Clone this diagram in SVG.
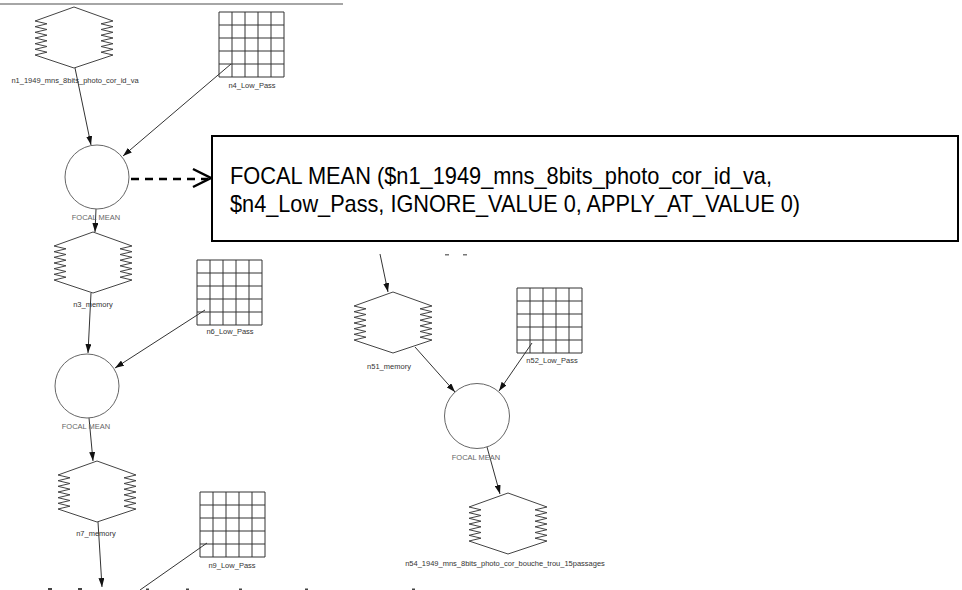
<svg xmlns="http://www.w3.org/2000/svg" xmlns:xlink="http://www.w3.org/1999/xlink" width="962" height="590" viewBox="0 0 962 590">
  <style>
    .hex { fill: none; stroke: #444; stroke-width: 1; }
    .grid { fill: none; stroke: #333; stroke-width: 1; }
    .op { fill: none; stroke: #666; stroke-width: 1; }
    .lbl { font-family: "Liberation Sans", Arial, sans-serif; font-size: 7.5px; fill: #333; text-anchor: middle; }
    .oplbl { font-family: "Liberation Sans", Arial, sans-serif; font-size: 7.5px; fill: #666; text-anchor: middle; }
    .edge { fill: none; stroke: #333; stroke-width: 1; }
    .call { font-family: "Liberation Sans Narrow", "Liberation Sans", Arial, sans-serif; font-size: 24px; fill: #000; }
  </style>
  <defs>
    <marker id="arrow" markerWidth="9" markerHeight="6" refX="9" refY="3" orient="auto" markerUnits="userSpaceOnUse">
      <path d="M0,0 L9,3 L0,6 Z" fill="#111"/>
    </marker>
    <!-- raster hexagon: top vertex at origin -->
    <path id="hexShape" class="hex" d="M0,0 L39,14 L27,16.8 L39,19.7 L27,22.5 L39,25.3 L27,28.2 L39,31 L27,33.8 L39,36.7 L27,39.5 L39,42.3 L27,45.2 L39,48 L0,61 L-39,48 L-27,45.2 L-39,42.3 L-27,39.5 L-39,36.7 L-27,33.8 L-39,31 L-27,28.2 L-39,25.3 L-27,22.5 L-39,19.7 L-27,16.8 L-39,14 Z"/>
    <!-- 5x5 kernel grid: top-left at origin -->
    <path id="gridShape" class="grid" d="M0,0 H65 V65 H0 Z M13,0 V65 M26,0 V65 M39,0 V65 M52,0 V65 M0,13 H65 M0,26 H65 M0,39 H65 M0,52 H65"/>
  </defs>

  <rect width="962" height="590" fill="#fff"/>
  <line x1="0" y1="4" x2="343" y2="4" stroke="#888" stroke-width="1.5"/>

  <g id="edges">
    <line class="edge" x1="75" y1="68" x2="91" y2="145" marker-end="url(#arrow)"/>
    <line class="edge" x1="231" y1="64" x2="123" y2="156" marker-end="url(#arrow)"/>
    <line class="edge" x1="96" y1="209" x2="95" y2="232" marker-end="url(#arrow)"/>
    <line class="edge" x1="91" y1="293" x2="88" y2="353" marker-end="url(#arrow)"/>
    <line class="edge" x1="205" y1="310" x2="115" y2="368" marker-end="url(#arrow)"/>
    <line class="edge" x1="89" y1="418" x2="93" y2="461" marker-end="url(#arrow)"/>
    <line class="edge" x1="98" y1="522" x2="102" y2="587" marker-end="url(#arrow)"/>
    <line class="edge" x1="207" y1="543" x2="140" y2="590"/>
    <line class="edge" x1="380" y1="254" x2="388" y2="292" marker-end="url(#arrow)"/>
    <line class="edge" x1="415" y1="347" x2="455" y2="392" marker-end="url(#arrow)"/>
    <line class="edge" x1="532" y1="343" x2="499" y2="391" marker-end="url(#arrow)"/>
    <line class="edge" x1="487" y1="447" x2="500" y2="494" marker-end="url(#arrow)"/>
    <!-- callout pointer -->
    <line x1="131" y1="179" x2="208" y2="179" stroke="#000" stroke-width="2.5" stroke-dasharray="8 6"/>
    <polyline points="193,169 211,178 193,187" fill="none" stroke="#000" stroke-width="2.5"/>
  </g>

  <g id="n1">
    <use xlink:href="#hexShape" x="74" y="7"/>
    <text class="lbl" x="75" y="83">n1_1949_mns_8bits_photo_cor_id_va</text>
  </g>
  <g id="n4">
    <use xlink:href="#gridShape" x="219" y="12"/>
    <text class="lbl" x="252" y="88">n4_Low_Pass</text>
  </g>
  <g id="focal1">
    <circle class="op" cx="97" cy="177" r="32"/>
    <text class="oplbl" x="96" y="220">FOCAL MEAN</text>
  </g>
  <g id="n3">
    <use xlink:href="#hexShape" x="93" y="232"/>
    <text class="lbl" x="93" y="307">n3_memory</text>
  </g>
  <g id="n6">
    <use xlink:href="#gridShape" x="197" y="260"/>
    <text class="lbl" x="230" y="334">n6_Low_Pass</text>
  </g>
  <g id="focal2">
    <circle class="op" cx="87" cy="386" r="32"/>
    <text class="oplbl" x="86" y="429">FOCAL MEAN</text>
  </g>
  <g id="n7">
    <use xlink:href="#hexShape" x="97" y="461"/>
    <text class="lbl" x="96" y="536">n7_memory</text>
  </g>
  <g id="n9">
    <use xlink:href="#gridShape" x="200" y="492"/>
    <text class="lbl" x="232" y="568">n9_Low_Pass</text>
  </g>
  <g id="n51">
    <use xlink:href="#hexShape" x="393" y="292"/>
    <text class="lbl" x="389" y="369">n51_memory</text>
  </g>
  <g id="n52">
    <use xlink:href="#gridShape" x="517" y="288"/>
    <text class="lbl" x="552" y="363">n52_Low_Pass</text>
  </g>
  <g id="focal3">
    <circle class="op" cx="477" cy="416" r="32.5"/>
    <text class="oplbl" x="476" y="460">FOCAL MEAN</text>
  </g>
  <g id="n54">
    <use xlink:href="#hexShape" x="508" y="493"/>
    <text class="lbl" x="505" y="566">n54_1949_mns_8bits_photo_cor_bouche_trou_15passages</text>
  </g>

  <!-- stray marks -->
  <g fill="#777">
    <rect x="445" y="254" width="4" height="1.5"/>
    <rect x="463" y="254" width="4" height="1.5"/>
  </g>
  <g fill="#444">
    <rect x="48" y="588" width="4" height="2"/>
    <rect x="78" y="588" width="4" height="2"/>
    <rect x="146" y="588.5" width="3" height="1.5"/>
    <rect x="186" y="588.5" width="3" height="1.5"/>
    <rect x="239" y="588.5" width="3" height="1.5"/>
    <rect x="305" y="588.5" width="3" height="1.5"/>
    <rect x="412" y="588.5" width="3" height="1.5"/>
  </g>

  <g id="callout">
    <rect x="212" y="136" width="746" height="105" fill="#fff" stroke="#000" stroke-width="2"/>
    <text class="call" x="230" y="184" textLength="542" lengthAdjust="spacingAndGlyphs">FOCAL MEAN ($n1_1949_mns_8bits_photo_cor_id_va,</text>
    <text class="call" x="230" y="212" textLength="570" lengthAdjust="spacingAndGlyphs">$n4_Low_Pass, IGNORE_VALUE 0, APPLY_AT_VALUE 0)</text>
  </g>
</svg>
